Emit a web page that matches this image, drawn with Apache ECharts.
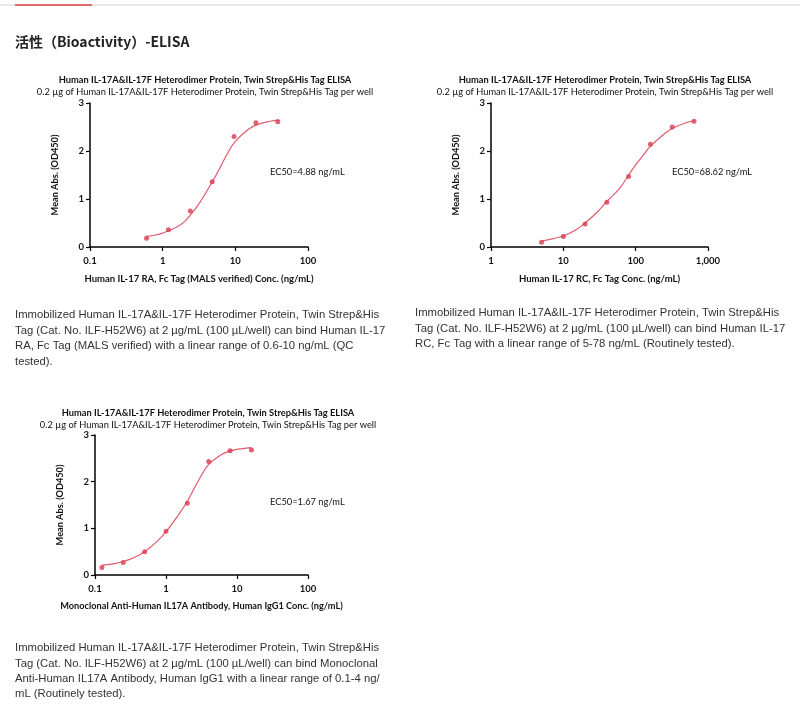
<!DOCTYPE html>
<html>
<head>
<meta charset="utf-8">
<script src="https://cdn.jsdelivr.net/npm/echarts@6/dist/echarts.min.js"></script>
<style>
html,body{margin:0;padding:0;background:#fff;}
#c{width:800px;height:728px;}
</style>
</head>
<body>
<div id="c"></div>
<script>
// ---- Data ----
const chartTitle = 'Human IL-17A&IL-17F Heterodimer Protein, Twin Strep&His Tag ELISA';
const chartSubtitle = '0.2 µg of Human IL-17A&IL-17F Heterodimer Protein, Twin Strep&His Tag per well';
const yAxisName = 'Mean Abs. (OD450)';

// Chart 1: IL-17 RA
const ra_conc = [0.6, 1.2, 2.4, 4.8, 9.6, 19.2, 38.4];
const ra_od   = [0.18, 0.36, 0.75, 1.36, 2.30, 2.59, 2.61];
const ra_fitX = [0.6, 0.8, 1.0, 1.5, 2, 3, 4, 5, 6, 8, 10, 15, 20, 30, 40];
const ra_fitY = [0.22, 0.25, 0.29, 0.40, 0.53, 0.85, 1.15, 1.40, 1.62, 1.98, 2.20, 2.45, 2.55, 2.62, 2.65];
const ra_ec50 = 'EC50=4.88 ng/mL';
const ra_xName = 'Human IL-17 RA, Fc Tag (MALS verified) Conc. (ng/mL)';
const ra_ticks = ['0.1', '1', '10', '100'];

// Chart 2: IL-17 RC
const rc_conc = [5, 10, 20, 40, 80, 160, 320, 640];
const rc_od   = [0.10, 0.22, 0.48, 0.93, 1.47, 2.14, 2.50, 2.62];
const rc_fitX = [5, 7, 10, 15, 20, 30, 40, 60, 80, 100, 130, 160, 250, 320, 500, 640];
const rc_fitY = [0.12, 0.17, 0.23, 0.36, 0.50, 0.74, 0.95, 1.22, 1.50, 1.71, 1.93, 2.10, 2.36, 2.47, 2.59, 2.63];
const rc_ec50 = 'EC50=68.62 ng/mL';
const rc_xName = 'Human IL-17 RC, Fc Tag Conc. (ng/mL)';
const rc_ticks = ['1', '10', '100', '1,000'];

// Chart 3: anti-IL17A antibody
const ab_conc = [0.125, 0.25, 0.5, 1, 2, 4, 8, 16];
const ab_od   = [0.16, 0.27, 0.50, 0.94, 1.54, 2.43, 2.66, 2.68];
const ab_fitX = [0.125, 0.18, 0.25, 0.35, 0.5, 0.75, 1, 1.5, 2, 3, 4, 6, 8, 12, 16];
const ab_fitY = [0.21, 0.24, 0.29, 0.37, 0.50, 0.72, 0.93, 1.29, 1.58, 2.08, 2.37, 2.58, 2.66, 2.71, 2.73];
const ab_ec50 = 'EC50=1.67 ng/mL';
const ab_xName = 'Monoclonal Anti-Human IL17A Antibody, Human IgG1 Conc. (ng/mL)';
const ab_ticks = ['0.1', '1', '10', '100'];

const heading = '活性（Bioactivity）-ELISA';
const para1 = 'Immobilized Human IL-17A&IL-17F Heterodimer Protein, Twin Strep&His\nTag (Cat. No. ILF-H52W6) at 2 µg/mL (100 µL/well) can bind Human IL-17\nRA, Fc Tag (MALS verified) with a linear range of 0.6-10 ng/mL (QC\ntested).';
const para2 = 'Immobilized Human IL-17A&IL-17F Heterodimer Protein, Twin Strep&His\nTag (Cat. No. ILF-H52W6) at 2 µg/mL (100 µL/well) can bind Human IL-17\nRC, Fc Tag with a linear range of 5-78 ng/mL (Routinely tested).';
const para3 = 'Immobilized Human IL-17A&IL-17F Heterodimer Protein, Twin Strep&His\nTag (Cat. No. ILF-H52W6) at 2 µg/mL (100 µL/well) can bind Monoclonal\nAnti-Human IL17A Antibody, Human IgG1 with a linear range of 0.1-4 ng/\nmL (Routinely tested).';

// ---- Build ----
const FONT = 'Lato';
const PT = '#d93a4e';
const LN = '#e05a6c';
const zip = (a, b) => a.map((v, i) => [v, b[i]]);

const panels = [
  {grid:{left:90, top:103, width:218, height:144}, min:0.1, max:100, ticks:ra_ticks, name:ra_xName, nameSize:9.5, conc:ra_conc, od:ra_od, fx:ra_fitX, fy:ra_fitY, ec:ra_ec50, ecPos:[270,173], tPos:[200,76]},
  {grid:{left:491, top:103, width:217, height:144}, min:1, max:1000, ticks:rc_ticks, name:rc_xName, nameSize:9.5, conc:rc_conc, od:rc_od, fx:rc_fitX, fy:rc_fitY, ec:rc_ec50, ecPos:[672,173], tPos:[600,76]},
  {grid:{left:95, top:435, width:213, height:140}, min:0.1, max:100, ticks:ab_ticks, name:ab_xName, nameSize:9.2, conc:ab_conc, od:ab_od, fx:ab_fitX, fy:ab_fitY, ec:ab_ec50, ecPos:[270,503], tPos:[203,409]}
];

const option = {
  animation:false,
  backgroundColor:'#fff',
  grid: panels.map(p => Object.assign({containLabel:false}, p.grid)),
  xAxis: panels.map((p, i) => ({
    type:'log', logBase:10, gridIndex:i, min:p.min, max:p.max,
    name:p.name, nameLocation:'middle', nameGap:27,
    nameTextStyle:{fontFamily:FONT, fontWeight:'bold', fontSize:p.nameSize, color:'#111'},
    axisLine:{show:true, onZero:false, lineStyle:{color:'#000', width:1.5}},
    axisTick:{show:true, length:4, lineStyle:{color:'#000', width:1.2}},
    minorTick:{show:false},
    splitLine:{show:false},
    axisLabel:{fontFamily:FONT, fontWeight:'bold', fontSize:9.5, color:'#111', margin:9,
      formatter:(v) => {
        const k = Math.round(Math.log10(v) - Math.log10(p.min));
        return p.ticks[k] !== undefined ? p.ticks[k] : '';
      }}
  })),
  yAxis: panels.map((p, i) => ({
    type:'value', gridIndex:i, min:0, max:3, interval:1,
    name:yAxisName, nameLocation:'middle', nameGap:30,
    nameTextStyle:{fontFamily:FONT, fontWeight:'bold', fontSize:9.2, color:'#111'},
    axisLine:{show:true, lineStyle:{color:'#000', width:1.5}},
    axisTick:{show:true, length:4, lineStyle:{color:'#000', width:1.2}},
    splitLine:{show:false},
    axisLabel:{fontFamily:FONT, fontWeight:'bold', fontSize:9.5, color:'#111', margin:6}
  })),
  series: [].concat(...panels.map((p, i) => [
    {type:'line', xAxisIndex:i, yAxisIndex:i, data:zip(p.fx, p.fy), smooth:0.4, showSymbol:false,
      lineStyle:{color:LN, width:1.2}, z:2},
    {type:'scatter', xAxisIndex:i, yAxisIndex:i, data:zip(p.conc, p.od), symbolSize:5,
      itemStyle:{color:PT}, z:3}
  ])),
  title: [].concat(...panels.map(p => [
    {text:chartTitle, left:p.tPos[0], top:p.tPos[1]-6, textAlign:'center',
      textStyle:{fontFamily:FONT, fontWeight:'bold', fontSize:9.3, color:'#111'}},
    {text:chartSubtitle, left:p.tPos[0], top:p.tPos[1]+6, textAlign:'center',
      textStyle:{fontFamily:FONT, fontWeight:'normal', fontSize:9.3, color:'#111'}}
  ])),
  graphic: [
    {type:'rect', shape:{x:0, y:4, width:800, height:2}, style:{fill:'#e8e8e8'}},
    {type:'rect', shape:{x:15, y:4, width:77, height:2}, style:{fill:'#e06b6b'}},
    {type:'text', left:15, top:35, style:{text:heading, font:'bold 14px "Noto Sans CJK SC", "Liberation Sans", sans-serif', fill:'#222'}},
    {type:'text', left:15, top:307, style:{text:para1, font:'11.3px "Liberation Sans", Arial, sans-serif', fill:'#333', lineHeight:15.6}},
    {type:'text', left:415, top:305.5, style:{text:para2, font:'11.3px "Liberation Sans", Arial, sans-serif', fill:'#333', lineHeight:15.4}},
    {type:'text', left:15, top:640.5, style:{text:para3, font:'11.3px "Liberation Sans", Arial, sans-serif', fill:'#333', lineHeight:15.3}}
  ].concat(panels.map(p => ({
    type:'text', left:p.ecPos[0], top:p.ecPos[1]-6,
    style:{text:p.ec, font:'9.3px ' + FONT, fill:'#111'}
  })))
};

const chart = echarts.init(document.getElementById('c'), null, {renderer:'canvas'});
chart.setOption(option);
</script>
</body>
</html>
